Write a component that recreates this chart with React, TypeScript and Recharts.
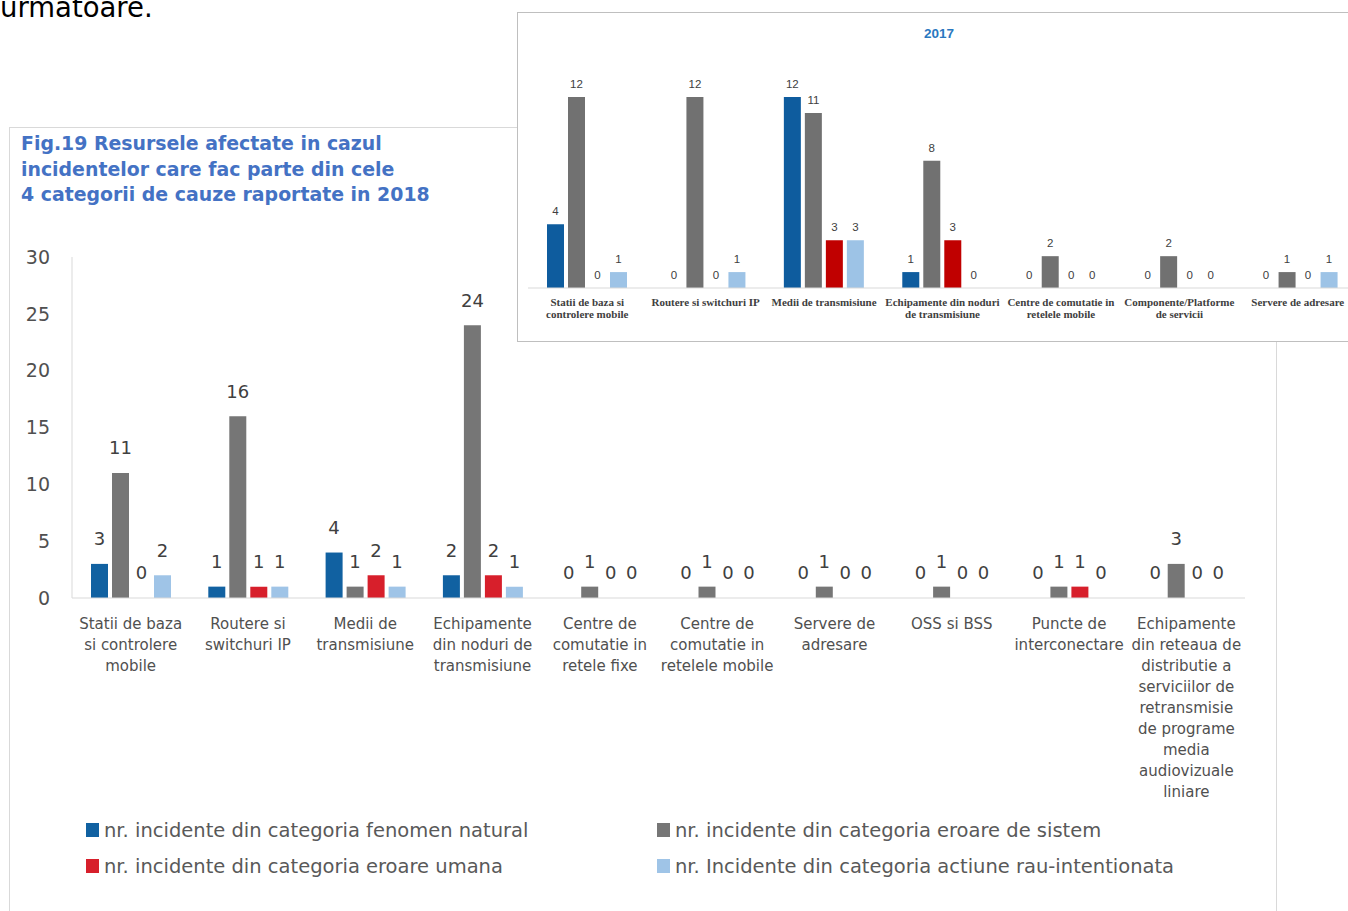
import React from "react";
import { BarChart, Bar, XAxis, YAxis, LabelList } from "recharts";

// 2018 chart (main)
const categories2018 = [
  "Statii de baza si controlere mobile",
  "Routere si switchuri IP",
  "Medii de transmisiune",
  "Echipamente din noduri de transmisiune",
  "Centre de comutatie in retele fixe",
  "Centre de comutatie in retelele mobile",
  "Servere de adresare",
  "OSS si BSS",
  "Puncte de interconectare",
  "Echipamente din reteaua de distributie a serviciilor de retransmisie de programe media audiovizuale liniare",
];
const tickLabels2018 = [
  ["Statii de baza", "si controlere", "mobile"],
  ["Routere si", "switchuri IP"],
  ["Medii de", "transmisiune"],
  ["Echipamente", "din noduri de", "transmisiune"],
  ["Centre de", "comutatie in", "retele fixe"],
  ["Centre de", "comutatie in", "retelele mobile"],
  ["Servere de", "adresare"],
  ["OSS si BSS"],
  ["Puncte de", "interconectare"],
  ["Echipamente", "din reteaua de", "distributie a", "serviciilor de", "retransmisie", "de programe", "media", "audiovizuale", "liniare"],
];
const natural2018 = [3, 1, 4, 2, 0, 0, 0, 0, 0, 0];
const sistem2018 = [11, 16, 1, 24, 1, 1, 1, 1, 1, 3];
const umana2018 = [0, 1, 2, 2, 0, 0, 0, 0, 1, 0];
const rau2018 = [2, 1, 1, 1, 0, 0, 0, 0, 0, 0];
const yTicks2018 = [0, 5, 10, 15, 20, 25, 30];

// 2017 chart (inset)
const categories2017 = [
  "Statii de baza si controlere mobile",
  "Routere si switchuri IP",
  "Medii de transmisiune",
  "Echipamente din noduri de transmisiune",
  "Centre de comutatie in retelele mobile",
  "Componente/Platforme de servicii",
  "Servere de adresare",
];
const tickLabels2017 = [
  ["Statii de baza si", "controlere mobile"],
  ["Routere si switchuri IP"],
  ["Medii de transmisiune"],
  ["Echipamente din noduri", "de transmisiune"],
  ["Centre de comutatie in", "retelele mobile"],
  ["Componente/Platforme", "de servicii"],
  ["Servere de adresare"],
];
const natural2017 = [4, 0, 12, 1, 0, 0, 0];
const sistem2017 = [12, 12, 11, 8, 2, 2, 1];
const umana2017 = [0, 0, 3, 3, 0, 0, 0];
const rau2017 = [1, 1, 3, 0, 0, 0, 1];

const seriesNames = [
  "nr. incidente din categoria fenomen natural",
  "nr. incidente din categoria eroare de sistem",
  "nr. incidente din categoria eroare umana",
  "nr. Incidente din categoria actiune rau-intentionata",
];
const seriesKeys = ["natural", "sistem", "umana", "rau"];
const colors2018 = ["#1161A1", "#767676", "#D71F2B", "#9FC4E7"];
const colors2017 = ["#0E5C9E", "#717171", "#C00000", "#9DC3E6"];

const data2018 = categories2018.map((name, i) => ({
  name,
  natural: natural2018[i],
  sistem: sistem2018[i],
  umana: umana2018[i],
  rau: rau2018[i],
}));
const data2017 = categories2017.map((name, i) => ({
  name,
  natural: natural2017[i],
  sistem: sistem2017[i],
  umana: umana2017[i],
  rau: rau2017[i],
}));

const FONT = "'DejaVu Sans', Verdana, sans-serif";

const makeLabel = (gap: number, size: number, family: string, fill: string) => (props: any) => {
  const { x, y, width, value } = props;
  return (
    <text
      x={x + width / 2}
      y={y - gap}
      textAnchor="middle"
      dominantBaseline="central"
      fontSize={size}
      fontFamily={family}
      fill={fill}
    >
      {String(value)}
    </text>
  );
};

const MainTick = ({ x, y, payload }: any) => {
  const lines = tickLabels2018[categories2018.indexOf(payload.value)] || [];
  return (
    <text x={x} y={y + 29} textAnchor="middle" fontSize={15} fontFamily={FONT} fill="#505050">
      {lines.map((l, i) => (
        <tspan key={i} x={x} dy={i === 0 ? 0 : 21}>
          {l}
        </tspan>
      ))}
    </text>
  );
};

const InsetTick = ({ x, y, payload }: any) => {
  const lines = tickLabels2017[categories2017.indexOf(payload.value)] || [];
  return (
    <text
      x={x}
      y={y + 16}
      textAnchor="middle"
      fontSize={11}
      fontWeight="bold"
      fontFamily="'Liberation Serif', serif"
      fill="#404040"
    >
      {lines.map((l, i) => (
        <tspan key={i} x={x} dy={i === 0 ? 0 : 12}>
          {l}
        </tspan>
      ))}
    </text>
  );
};

export default function App() {
  return (
    <div
      style={{
        position: "absolute",
        left: 0,
        top: 0,
        width: 1348,
        height: 911,
        overflow: "hidden",
        background: "#fff",
      }}
    >
      <svg style={{ position: "absolute", left: 0, top: 0 }} width={300} height={30}>
        <text x={0} y={17} fontSize={27.5} fontFamily={FONT} fill="#000">
          urmatoare.
        </text>
      </svg>

      {/* main frame */}
      <div
        style={{
          position: "absolute",
          left: 9,
          top: 127,
          width: 1266,
          height: 900,
          border: "1px solid #D9D9D9",
        }}
      />
      <div
        style={{
          position: "absolute",
          left: 21,
          top: 131,
          fontFamily: FONT,
          fontWeight: "bold",
          fontSize: 18.9,
          lineHeight: "25.5px",
          color: "#4472C4",
          whiteSpace: "nowrap",
        }}
      >
        Fig.19 Resursele afectate in cazul
        <br />
        incidentelor care fac parte din cele
        <br />4 categorii de cauze raportate in 2018
      </div>

      <div style={{ position: "absolute", left: 0, top: 0 }}>
        <BarChart
          width={1348}
          height={911}
          data={data2018}
          margin={{ top: 257, right: 103, left: 0, bottom: 113 }}
          barSize={17}
          barGap={4}
        >
          <XAxis
            dataKey="name"
            height={200}
            interval={0}
            tickLine={false}
            tickSize={0}
            axisLine={{ stroke: "#D9D9D9" }}
            tick={<MainTick />}
          />
          <YAxis
            width={72}
            domain={[0, 30]}
            ticks={yTicks2018}
            tickLine={false}
            tickSize={0}
            tickMargin={22}
            axisLine={{ stroke: "#D9D9D9" }}
            tick={{ fontSize: 19, fontFamily: FONT, fill: "#505050" }}
          />
          {seriesKeys.map((k, i) => (
            <Bar
              key={k}
              dataKey={k}
              name={seriesNames[i]}
              fill={colors2018[i]}
              minPointSize={0.01}
              isAnimationActive={false}
            >
              <LabelList dataKey={k} content={makeLabel(25, 18, FONT, "#404040")} />
            </Bar>
          ))}
        </BarChart>
      </div>

      {/* legend */}
      <div
        style={{
          position: "absolute",
          left: 86,
          top: 816,
          display: "grid",
          gridTemplateColumns: "571px 600px",
          rowGap: 8,
          fontFamily: FONT,
          fontSize: 19.5,
          color: "#595959",
        }}
      >
        {seriesNames.map((n, i) => (
          <div key={n} style={{ display: "flex", alignItems: "center", height: 28, whiteSpace: "nowrap" }}>
            <span
              style={{
                display: "inline-block",
                width: 13,
                height: 14,
                background: colors2018[i],
                marginRight: 5,
              }}
            />
            {n}
          </div>
        ))}
      </div>

      {/* 2017 inset */}
      <div
        style={{
          position: "absolute",
          left: 517,
          top: 12,
          width: 842,
          height: 328,
          border: "1px solid #BFBFBF",
          background: "#fff",
          zIndex: 2,
        }}
      >
        <div
          style={{
            position: "absolute",
            left: 0,
            width: 842,
            top: 13,
            textAlign: "center",
            fontFamily: "'Liberation Sans', Arial, sans-serif",
            fontWeight: "bold",
            fontSize: 13.5,
            color: "#2A78C0",
          }}
        >
          2017
        </div>
        <BarChart
          width={842}
          height={328}
          data={data2017}
          margin={{ top: 84, right: 3, left: 10, bottom: 0 }}
          barSize={17}
          barGap={4}
        >
          <XAxis
            dataKey="name"
            height={53}
            interval={0}
            tickLine={false}
            tickSize={0}
            axisLine={{ stroke: "#D9D9D9" }}
            tick={<InsetTick />}
          />
          <YAxis hide domain={[0, 12]} />
          {seriesKeys.map((k, i) => (
            <Bar
              key={k}
              dataKey={k}
              name={seriesNames[i]}
              fill={colors2017[i]}
              minPointSize={0.01}
              isAnimationActive={false}
            >
              <LabelList
                dataKey={k}
                content={makeLabel(13, 11.5, "'Liberation Sans Narrow', 'Liberation Sans', sans-serif", "#404040")}
              />
            </Bar>
          ))}
        </BarChart>
      </div>
    </div>
  );
}
